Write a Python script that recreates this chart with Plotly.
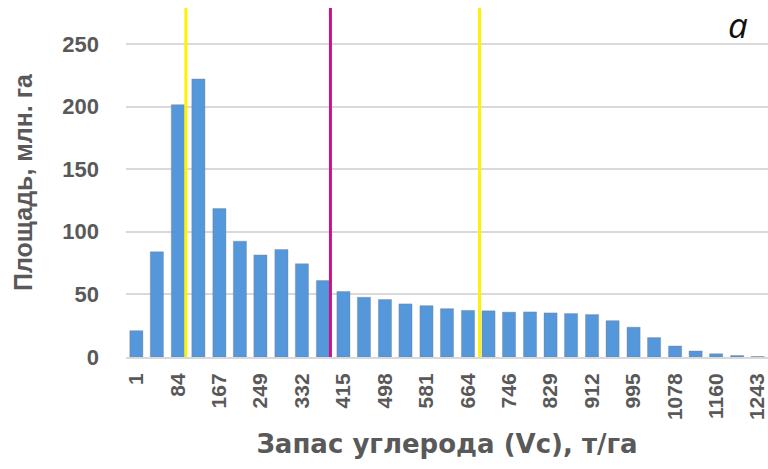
import plotly.graph_objects as go

# Carbon stock bins (t/ha) – category labels
carbon_bins = [1, 42, 84, 125, 167, 208, 249, 291, 332, 374, 415, 456, 498, 539, 581,
               622, 664, 705, 746, 788, 829, 870, 912, 953, 995, 1036, 1078, 1119,
               1160, 1202, 1243]
tick_labels = [1, 84, 167, 249, 332, 415, 498, 581, 664, 746, 829, 912, 995, 1078, 1160, 1243]
# Area, million ha
area = [21, 84, 201.5, 222, 118.5, 92.5, 81.5, 85.8, 74.5, 61, 52.3, 47.7, 45.9, 42.4, 41,
        38.6, 37.2, 36.9, 35.8, 36, 35.2, 34.7, 33.9, 29, 23.8, 15.5, 8.8, 4.8, 2.6, 1.2, 0.4]
y_ticks = [0, 50, 100, 150, 200, 250]
# Threshold lines (t/ha)
thresholds = [100, 389, 687]
threshold_colors = ["#FFF200", "#C8138C", "#FFF200"]

grey = "#595959"
font_family = "Liberation Sans, Arial, sans-serif"

fig = go.Figure()
fig.add_trace(go.Bar(
    x=carbon_bins, y=area,
    marker=dict(color="#5597DB", line=dict(color="rgba(120,120,120,0.35)", width=1)),
    showlegend=False,
))

for v, c in zip(thresholds, threshold_colors):
    fig.add_shape(type="line", xref="x", yref="paper", x0=v, x1=v, y0=0, y1=1,
                  line=dict(color=c, width=3), layer="above")

fig.add_annotation(text="а", xref="paper", yref="paper", x=0.953, y=0.954,
                   xanchor="center", yanchor="middle", showarrow=False,
                   font=dict(family="Open Sans", size=35, color="#111111", style="italic"))

fig.update_layout(
    width=768, height=469,
    margin=dict(l=126, r=0, t=8, b=112),
    plot_bgcolor="white", paper_bgcolor="white",
    bargap=0.36,
    font=dict(family=font_family, color=grey),
    xaxis=dict(
        range=[1 - 20.7, 1243 + 20.7],
        tickmode="array", tickvals=tick_labels, ticktext=[str(t) for t in tick_labels],
        tickangle=-90, automargin=False, ticklabeloverflow="allow",
        tickfont=dict(family=font_family, size=21, color=grey, weight="bold"),
        showgrid=False, zeroline=False,
        showline=True, linecolor="#D9D9D9", linewidth=2,
        ticks="", ticklabelstandoff=6,
        title=dict(text="Запас углерода (Vc), т/га",
                   font=dict(family="DejaVu Sans", size=26, color=grey, weight="bold"),
                   standoff=16),
    ),
    yaxis=dict(
        range=[0, 278.7], automargin=False,
        tickmode="array", tickvals=y_ticks,
        tickfont=dict(family=font_family, size=22, color=grey, weight="bold"),
        showgrid=True, gridcolor="#D9D9D9", gridwidth=2,
        zeroline=False, showline=False, ticks="",
        ticklabelstandoff=26,
        title=dict(text="Площадь, млн. га",
                   font=dict(family=font_family, size=25, color=grey, weight="bold"),
                   standoff=22),
    ),
)

fig.write_html("out.html", config={"displayModeBar": False},
               post_script="document.body.style.margin='0';document.body.style.overflow='hidden';")
